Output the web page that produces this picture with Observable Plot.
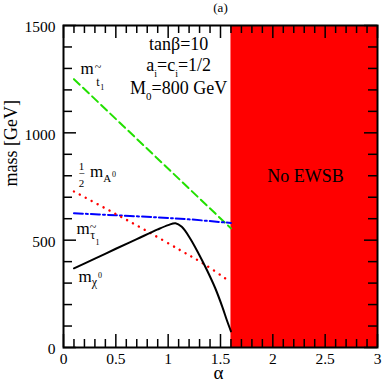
<!DOCTYPE html>
<html><head><meta charset="utf-8">
<script src="https://cdn.jsdelivr.net/npm/d3@7"></script>
<script src="https://cdn.jsdelivr.net/npm/@observablehq/plot@0.6"></script>
<style>html,body{margin:0;padding:0;background:#fff;overflow:hidden} svg text{font-family:'Liberation Serif','Times New Roman',Times,serif !important;}</style>
</head><body><div id="chart"></div>
<script>
// ---- data ----
const alphaStop = [0.1, 1.6];
const massStop  = [1250, 555];
const alphaStau = [0.1, 0.5, 0.9, 1.2, 1.6];
const massStau  = [625, 616, 606, 597, 580];
const alphaHalfA = [0.1, 0.45, 0.78, 1.12, 1.34, 1.56];
const massHalfA  = [727, 635, 547, 452, 390, 317];
const alphaChi = [0.1, 0.3, 0.5, 0.7, 0.9, 1.0, 1.07, 1.13, 1.21, 1.29, 1.37, 1.45, 1.52, 1.56, 1.6];
const massChi  = [369, 414, 460, 505, 550, 570, 579, 562, 508, 438, 361, 276, 186, 128, 75];
const noEwsbFrom = [1.6];
const noEwsbTo = [3];
const xMajor = [0, 0.5, 1, 1.5, 2, 2.5, 3];
const xMinor = [0.1,0.2,0.3,0.4,0.6,0.7,0.8,0.9,1.1,1.2,1.3,1.4,1.6,1.7,1.8,1.9,2.1,2.2,2.3,2.4,2.6,2.7,2.8,2.9];
const yMajor = [0, 500, 1000, 1500];
const yMinor = [100,200,300,400,600,700,800,900,1100,1200,1300,1400];
const paramLines = ["tanβ=10", "a_i=c_i=1/2", "M_0=800 GeV"];
const regionLabel = ["No EWSB"];
const panelLabel = ["(a)"];
const xLabel = ["α"];
const yLabel = ["mass [GeV]"];

// ---- layout ----
const W = 382, H = 382, mL = 63, mR = 5, mT = 25, mB = 35;
const innerW = W - mL - mR, innerH = H - mT - mB;
const pts = (xs, ys) => xs.map((a, i) => ({a, m: ys[i]}));
const serif = "'Liberation Serif','Times New Roman',Times,serif";

const tickXb = (d, len) => Plot.ruleX(d, {x: v => v, stroke: "black", strokeWidth: 1.5, insetTop: innerH - len});
const tickXt = (d, len) => Plot.ruleX(d, {x: v => v, stroke: "black", strokeWidth: 1.5, insetBottom: innerH - len});
const tickYl = (d, len) => Plot.ruleY(d, {y: v => v, stroke: "black", strokeWidth: 1.5, insetRight: innerW - len});
const tickYr = (d, len) => Plot.ruleY(d, {y: v => v, stroke: "black", strokeWidth: 1.5, insetLeft: innerW - len});

const chart = Plot.plot({
  width: W, height: H,
  marginLeft: mL, marginRight: mR, marginTop: mT, marginBottom: mB,
  style: {fontFamily: serif, fontSize: "15.5px", background: "white", color: "black"},
  x: {domain: [0, 3]},
  y: {domain: [0, 1500]},
  marks: [
    Plot.rect(noEwsbFrom.map((f, i) => ({x1: f, x2: noEwsbTo[i]})), {x1: "x1", x2: "x2", y1: 0, y2: 1500, fill: "#ff0000"}),
    Plot.line(pts(alphaStop, massStop), {x: "a", y: "m", stroke: "#22e000", strokeWidth: 2, strokeDasharray: "8 4.5"}),
    Plot.line(pts(alphaStau, massStau), {x: "a", y: "m", stroke: "#0000ff", strokeWidth: 2, strokeDasharray: "9 3 2 3", curve: "catmull-rom"}),
    Plot.line(pts(alphaHalfA, massHalfA), {x: "a", y: "m", stroke: "#ff0000", strokeWidth: 2.4, strokeDasharray: "0.1 6.6", strokeLinecap: "round", curve: "catmull-rom"}),
    Plot.line(pts(alphaChi, massChi), {x: "a", y: "m", stroke: "black", strokeWidth: 2, curve: "catmull-rom"}),
    // curve labels
    Plot.text([{x: 0.162, y: 1272, k: "stop"}], {x: "x", y: "y", text: "k", textAnchor: "start", lineAnchor: "bottom", fontSize: 17, fontFamily: serif}),
    Plot.text([{x: 0.143, y: 792, k: "halfA"}], {x: "x", y: "y", text: "k", textAnchor: "start", lineAnchor: "bottom", fontSize: 17, fontFamily: serif}),
    Plot.text([{x: 0.124, y: 531, k: "stau"}], {x: "x", y: "y", text: "k", textAnchor: "start", lineAnchor: "bottom", fontSize: 17, fontFamily: serif}),
    Plot.text([{x: 0.143, y: 307, k: "chi"}], {x: "x", y: "y", text: "k", textAnchor: "start", lineAnchor: "bottom", fontSize: 17, fontFamily: serif}),
    // parameters
    Plot.text(paramLines.map((t, i) => ({t, x: 1.1, y: [1388, 1290, 1182][i]})), {x: "x", y: "y", text: "t", textAnchor: "middle", lineAnchor: "bottom", fontSize: 18, fontFamily: serif}),
    Plot.text(regionLabel.map(t => ({t, x: 2.312, y: 770})), {x: "x", y: "y", text: "t", textAnchor: "middle", lineAnchor: "bottom", fontSize: 18, fontFamily: serif}),
    // ticks (inward, mirrored)
    tickXb(xMinor, 8), tickXb(xMajor, 13), tickXt(xMinor, 8), tickXt(xMajor, 13),
    tickYl(yMinor, 9), tickYl(yMajor, 13), tickYr(yMinor, 9), tickYr(yMajor, 13),
    Plot.frame({stroke: "black", strokeWidth: 2}),
    Plot.axisX(xMajor, {tickSize: 0, tickPadding: 5.5, tickFormat: d => String(d), fontSize: 15.5, fontFamily: serif, fontVariant: "normal", label: null}),
    Plot.axisY(yMajor, {tickSize: 0, tickPadding: 8, dy: 2, tickFormat: d => String(d), fontSize: 15.5, fontFamily: serif, fontVariant: "normal", label: null}),
    Plot.text(xLabel, {frameAnchor: "bottom", dy: 31, dx: -2, lineAnchor: "bottom", fontSize: 19, fontFamily: serif}),
    Plot.text(yLabel, {frameAnchor: "left", dx: -47, rotate: -90, lineAnchor: "bottom", fontSize: 18, fontFamily: serif}),
    Plot.text(panelLabel, {frameAnchor: "top", dy: -14, lineAnchor: "bottom", fontSize: 13, fontFamily: serif})
  ]
});
document.getElementById("chart").appendChild(chart);

// ---- rich text (sub/superscripts) ----
const rich = {
  "stop":  [{t: "m"}, {t: "~", fs: 12, dx: 1, y: -3}, {t: "t", fs: 12, dx: -4.9, y: 12}, {t: "1", fs: 8, dx: 0.7, y: 16}],
  "halfA": [{t: "−", fs: 11, y: 0}, {t: "1", fs: 11, dx: -5.85, y: -7}, {t: "2", fs: 11, dx: -5.5, y: 10}, {t: "m", dx: 5.6, y: 0}, {t: "A", fs: 11, y: 5}, {t: "0", fs: 8, dx: 1, y: 0}],
  "stau":  [{t: "m"}, {t: "~", fs: 12, dx: 0, y: -3}, {t: "τ", fs: 12, dx: -6, y: 5}, {t: "1", fs: 8, dx: 0.5, y: 11}],
  "chi":   [{t: "m"}, {t: "χ", fs: 12, y: 4}, {t: "0", fs: 8, dx: 1, y: -4}],
  "a_i=c_i=1/2": [{t: "a"}, {t: "i", fs: 10, y: 6}, {t: "=c", y: 0}, {t: "i", fs: 10, y: 6}, {t: "=1/2", y: 0}],
  "M_0=800 GeV": [{t: "M"}, {t: "0", fs: 11, y: 6}, {t: "=800 GeV", y: 0}]
};
d3.select(chart).selectAll("text").each(function() {
  const parts = rich[this.textContent];
  if (!parts) return;
  this.textContent = "";
  let cur = 0;
  for (const p of parts) {
    const ts = document.createElementNS("http://www.w3.org/2000/svg", "tspan");
    ts.textContent = p.t;
    if (p.fs) ts.setAttribute("font-size", p.fs);
    const y = p.y || 0;
    if (y !== cur) { ts.setAttribute("dy", y - cur); cur = y; }
    if (p.dx) ts.setAttribute("dx", p.dx);
    this.appendChild(ts);
  }
});
</script>
</body></html>
